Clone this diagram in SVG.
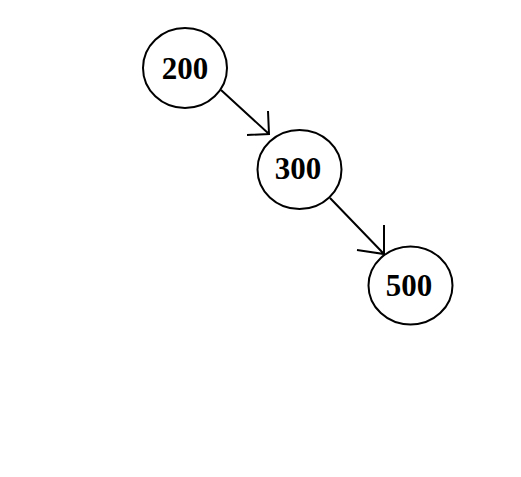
<svg xmlns="http://www.w3.org/2000/svg" width="521" height="477" viewBox="0 0 521 477">
<style>
.node ellipse{fill:#fff;stroke:#000;stroke-width:2}
.node text{font-family:"Liberation Serif","Times New Roman",serif;font-weight:bold;font-size:31px;fill:#000;text-anchor:middle}
.edge{stroke:#000;stroke-width:2;fill:none}
</style>
<rect width="521" height="477" fill="#fff"/>
<g id="connectors">
<path class="edge" d="M221,90 L269,134 M268,111 L269,134 L247,135"/>
<path class="edge" d="M330,198 L384,254 M384,225 L384,254 L357,250"/>
</g>
<g id="node-200" class="node"><ellipse cx="185" cy="68" rx="42" ry="40"/><text x="185" y="79">200</text></g>
<g id="node-300" class="node"><ellipse cx="299.5" cy="169.5" rx="42" ry="39.5"/><text x="298" y="179">300</text></g>
<g id="node-500" class="node"><ellipse cx="410.5" cy="285.5" rx="42" ry="39"/><text x="409" y="296">500</text></g>
</svg>
